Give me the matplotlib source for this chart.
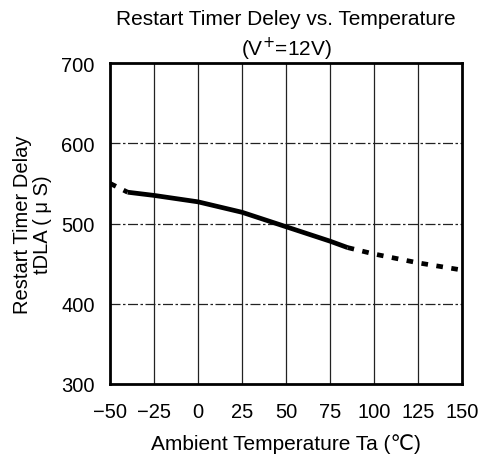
import matplotlib
matplotlib.use("Agg")
import matplotlib.pyplot as plt

plt.rcParams['font.family'] = ['Liberation Sans', 'DejaVu Sans']

# Data
temp_solid = [-40, -25, 0, 25, 50, 75, 85]
delay_solid = [539, 535, 527, 514, 496, 478, 470]
temp_dash_low = [-50, -40]
delay_dash_low = [550, 539]
temp_dash_high = [85, 100, 125, 150]
delay_dash_high = [470, 462, 451, 442]

xticks = [-50, -25, 0, 25, 50, 75, 100, 125, 150]
yticks = [300, 400, 500, 600, 700]

fig = plt.figure(figsize=(4.88, 4.60), dpi=100)
ax = fig.add_axes([110/488, 1 - 385/460, 352/488, 321/460])

for x in xticks[1:-1]:
    ax.axvline(x, color='#222222', lw=0.9, zorder=1)
for y in yticks[1:-1]:
    ax.axhline(y, color='#222222', lw=0.9, ls=(0, (8, 2, 2, 2)), zorder=1)

ax.plot(temp_solid, delay_solid, color='black', lw=3.4, solid_capstyle='butt', zorder=3)
ax.plot(temp_dash_low, delay_dash_low, color='black', lw=3.4, ls=(0, (1.4, 1.8)), zorder=3)
ax.plot(temp_dash_high, delay_dash_high, color='black', lw=3.4, ls=(0, (1.4, 1.8)), zorder=3)

ax.set_xlim(-50, 150)
ax.set_ylim(300, 700)
ax.set_xticks(xticks)
ax.set_yticks(yticks)
ax.set_xticklabels([f"{t}".replace('-', '\u2212') for t in xticks])
ax.tick_params(axis='both', length=0, labelsize=14.5, colors='black')
ax.tick_params(axis='x', pad=13)
ax.tick_params(axis='y', pad=11)
for s in ax.spines.values():
    s.set_linewidth(2)
    s.set_color('black')

ax.set_title("Restart Timer Deley vs. Temperature\n(V$^{+}$=12V)", fontsize=15, pad=6, linespacing=1.3)
ax.set_xlabel("Ambient Temperature Ta (\u2103)", fontsize=15, labelpad=9)
ax.set_ylabel("Restart Timer Delay\ntDLA ( \u03bc S)", fontsize=14.5, labelpad=7, linespacing=1.05)

fig.savefig("out.png", dpi=100)
